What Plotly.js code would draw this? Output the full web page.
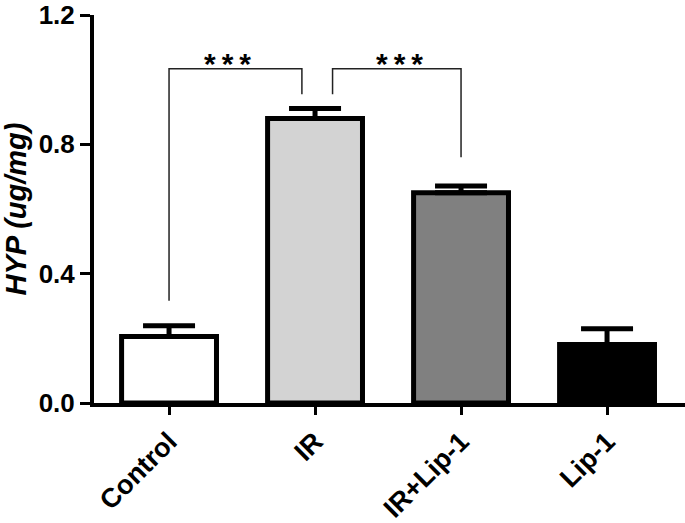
<!DOCTYPE html>
<html>
<head>
<meta charset="utf-8">
<script src="https://cdn.plot.ly/plotly-3.0.1.min.js"></script>
<style>html,body{margin:0;padding:0;background:#fff;}#chart{width:685px;height:523px;}</style>
</head>
<body>
<div id="chart"></div>
<script>
const categories = ["Control", "IR", "IR+Lip-1", "Lip-1"];
const means = [0.206, 0.880, 0.650, 0.181];
const sems = [0.033, 0.031, 0.021, 0.049];
const barColors = ["#ffffff", "#d3d3d3", "#808080", "#000000"];
const yTickVals = [0, 0.4, 0.8, 1.2];
const yTickText = ["0.0", "0.4", "0.8", "1.2"];

// significance brackets (category index / data units)
const bracket1X = [0, 0, 0.91, 0.91];
const bracket1Y = [0.316, 1.034, 1.034, 0.955];
const bracket2X = [1.12, 1.12, 2, 2];
const bracket2Y = [0.955, 1.034, 1.034, 0.76];
const starLabels = ["*\u2009*\u2009*", "*\u2009*\u2009*"];
const starX = [0.40, 1.58];
const starY = [1.034, 1.034];

const FONT = "Liberation Sans, Arial, sans-serif";

const traces = [
  {
    type: "bar",
    x: [0, 1, 2, 3],
    y: means,
    width: 0.65,
    marker: { color: barColors, line: { color: "#000", width: 5 } },
    error_y: {
      type: "data", array: sems, arrayminus: sems.map(() => 0), symmetric: false,
      color: "#000", thickness: 5, width: 26
    },
    hoverinfo: "skip"
  },
  { type: "scatter", mode: "lines", x: bracket1X, y: bracket1Y,
    line: { color: "#222", width: 1.5 }, hoverinfo: "skip" },
  { type: "scatter", mode: "lines", x: bracket2X, y: bracket2Y,
    line: { color: "#222", width: 1.5 }, hoverinfo: "skip" }
];

const annotations = starLabels.map((t, i) => ({
  x: starX[i], y: starY[i], xref: "x", yref: "y",
  text: t, showarrow: false, yanchor: "middle", yshift: 5,
  font: { family: FONT, size: 30, color: "#000", weight: 700 }
}));

const layout = {
  width: 685, height: 523,
  margin: { l: 94, r: 0, t: 15, b: 120, pad: 0 },
  paper_bgcolor: "#fff", plot_bgcolor: "#fff",
  showlegend: false,
  bargap: 0,
  xaxis: {
    range: [-0.514, 3.534],
    tickmode: "array", tickvals: [0, 1, 2, 3], ticktext: categories,
    tickangle: -45,
    tickfont: { family: FONT, size: 27, color: "#000", weight: 700 },
    ticks: "outside", ticklen: 8, tickwidth: 3, tickcolor: "#000",
    showline: true, linecolor: "#000", linewidth: 4,
    showgrid: false, zeroline: false, fixedrange: true,
    ticklabeloverflow: "allow"
  },
  yaxis: {
    range: [0, 1.2002],
    tickmode: "array", tickvals: yTickVals, ticktext: yTickText,
    tickfont: { family: FONT, size: 26, color: "#000", weight: 700 },
    ticks: "outside", ticklen: 10, tickwidth: 3, tickcolor: "#000",
    showline: true, linecolor: "#000", linewidth: 4,
    showgrid: false, zeroline: false, fixedrange: true,
    ticklabeloverflow: "allow",
    title: { text: "HYP (ug/mg)", standoff: 10,
      font: { family: FONT, size: 29, color: "#000", weight: 700, style: "italic" } }
  },
  annotations: annotations
};

Plotly.newPlot("chart", traces, layout, { staticPlot: true, displayModeBar: false });
</script>
</body>
</html>
